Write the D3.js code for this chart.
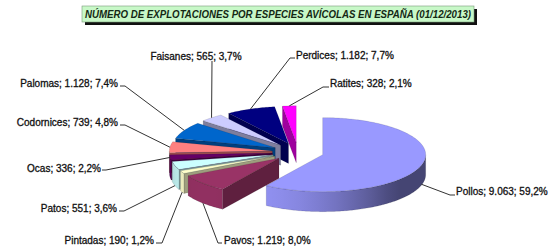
<!DOCTYPE html>
<html><head><meta charset="utf-8">
<script src="https://cdn.jsdelivr.net/npm/d3@7"></script>
<style>html,body{margin:0;padding:0;background:#fff;} svg{display:block;}</style>
</head><body><svg id="c" width="560" height="248"></svg>
<script>
// ---- data ----
const categories = ["Pollos","Pavos","Pintadas","Patos","Ocas","Codornices","Palomas","Faisanes","Perdices","Ratites"];
const values = [9063,1219,190,551,336,739,1128,565,1182,328];
const palette = ["#9999FF","#993366","#FFFFCC","#CCFFFF","#660066","#FF8080","#0066CC","#CCCCFF","#000080","#FF00FF"];
const title = "NÚMERO DE EXPLOTACIONES POR ESPECIES AVÍCOLAS EN ESPAÑA (01/12/2013)";

// ---- layout ----
const geo = {cx:298, cy:152, rx:103, ry:37, depth:20, explode:0.25};
const labelLayout = {
  Pollos:{x:456,y:191,anchor:"start",elbow:[450,195],end:[455,195],dz:19},
  Pavos:{x:224,y:240,anchor:"start",elbow:[218,243],end:[222,243],dz:20},
  Pintadas:{x:154,y:240,anchor:"end",elbow:[162,243],end:[156,243],dz:20},
  Patos:{x:117,y:208,anchor:"end",elbow:[124,211],end:[119,211],dz:20},
  Ocas:{x:101,y:168,anchor:"end",elbow:[106,170],end:[102,170],dz:0},
  Codornices:{x:118,y:122,anchor:"end",elbow:[125,125],end:[120,125],dz:0},
  Palomas:{x:118,y:83,anchor:"end",elbow:[125,86],end:[120,86],dz:0},
  Faisanes:{x:196,y:56,anchor:"middle",elbow:[212,61],end:[212,61],dz:0},
  Perdices:{x:296,y:55,anchor:"start",elbow:[290,58],end:[295,58],dz:0},
  Ratites:{x:330,y:83,anchor:"start",elbow:[323,87],end:[329,87],dz:0}
};

const svg = d3.select("#c");
const defs = svg.append("defs");
const FONT = "'Liberation Sans', Arial, sans-serif";

// ---- title ----
const tb = {x:82,y:6,w:392,h:16};
svg.append("rect").attr("x",tb.x+3).attr("y",tb.y+3).attr("width",tb.w).attr("height",tb.h).attr("fill","#111");
svg.append("rect").attr("x",tb.x).attr("y",tb.y).attr("width",tb.w).attr("height",tb.h)
  .attr("fill","#c8f8c8").attr("stroke","#7a9a7a").attr("stroke-width",0.6);
svg.append("text").attr("x",tb.x+tb.w/2).attr("y",tb.y+11.6).attr("text-anchor","middle")
  .attr("font-family",FONT).attr("font-size",10).attr("font-weight","bold").attr("font-style","italic")
  .attr("fill","#142814").attr("textLength",386).attr("lengthAdjust","spacingAndGlyphs").text(title);

// ---- pie ----
const data = categories.map((c,i)=>({name:c,value:values[i],color:palette[i]}));
const total = d3.sum(values);
const pie = d3.pie().sort(null).value(d=>d.value).startAngle(0).endAngle(2*Math.PI);
const arcs = pie(data);

const loc = d3.formatLocale({decimal:",", thousands:".", grouping:[3], currency:["","€"]});
const fmtV = loc.format(",d"), fmtP = loc.format(".1f");

function pt(a, r, o, dz){
  return [geo.cx + o[0] + r*geo.rx*Math.sin(a), geo.cy + o[1] - r*geo.ry*Math.cos(a) + (dz||0)];
}
function shade(c,k){const q=d3.rgb(c); return d3.rgb(Math.min(255,q.r*k),Math.min(255,q.g*k),Math.min(255,q.b*k)).formatHex();}
function wallK(a){return 0.45 + 0.5*Math.max(0, Math.cos(a - 225*Math.PI/180));}
function rimPts(a0,a1,o,dz){
  const n = Math.max(2, Math.ceil(Math.abs(a1-a0)/(Math.PI/180)));
  return d3.range(n+1).map(i=>pt(a0+(a1-a0)*i/n,1,o,dz));
}
const line = d3.line();

arcs.forEach(d=>{
  d.mid = (d.startAngle+d.endAngle)/2;
  d.off = [geo.explode*geo.rx*Math.sin(d.mid), -geo.explode*geo.ry*Math.cos(d.mid)];
  d.key = pt(d.mid,0.5,d.off,0)[1];
});
const order = arcs.slice().sort((a,b)=>a.key-b.key);

const gPie = svg.append("g");
const edge = "rgba(0,0,0,0.28)";
order.forEach((d,idx)=>{
  const g = gPie.append("g");
  const a0=d.startAngle, a1=d.endAngle, o=d.off, h=geo.depth;
  const apex=pt(0,0,o,0), apexB=pt(0,0,o,h);
  // radial faces
  [[a0, a0-Math.PI/2],[a1, a1+Math.PI/2]].forEach(([a,n])=>{
    if (Math.cos(n) < -1e-6){
      const r=pt(a,1,o,0), rb=pt(a,1,o,h);
      g.append("path").attr("d", line([apex,r,rb,apexB])+"Z")
        .attr("fill", shade(d.data.color,0.62)).attr("stroke",edge).attr("stroke-width",0.4);
    }
  });
  // outer wall
  const b0=Math.max(a0,Math.PI/2), b1=Math.min(a1,3*Math.PI/2);
  if (b1>b0){
    const top=rimPts(b0,b1,o,0), bot=rimPts(b1,b0,o,h);
    const gid="w"+idx;
    const xL=pt(b1,1,o,0)[0], xR=pt(b0,1,o,0)[0];
    const grad=defs.append("linearGradient").attr("id",gid).attr("gradientUnits","userSpaceOnUse")
      .attr("x1",xL).attr("y1",0).attr("x2",xR===xL?xL+1:xR).attr("y2",0);
    d3.range(13).forEach(i=>{
      const a=b1+(b0-b1)*i/12; const x=pt(a,1,o,0)[0];
      grad.append("stop").attr("offset", xR===xL?i/12:(x-xL)/(xR-xL)).attr("stop-color", shade(d.data.color, wallK(a)));
    });
    g.append("path").attr("d", line(top.concat(bot))+"Z").attr("fill","url(#"+gid+")")
      .attr("stroke",edge).attr("stroke-width",0.4);
  }
  // top face
  g.append("path").attr("d", line([apex].concat(rimPts(a0,a1,o,0)))+"Z")
    .attr("fill", d.data.color).attr("stroke",edge).attr("stroke-width",0.4);
});

// ---- labels ----
const gLab = svg.append("g");
arcs.forEach(d=>{
  const L = labelLayout[d.data.name];
  const anchorPt = pt(d.mid,1,d.off,L.dz);
  gLab.append("path").attr("d", line([anchorPt, L.elbow, L.end])).attr("fill","none")
    .attr("stroke","#333").attr("stroke-width",1);
  gLab.append("text").attr("x",L.x).attr("y",L.y+3.6).attr("text-anchor",L.anchor)
    .attr("font-family",FONT).attr("font-size",10).attr("fill","#111")
    .attr("stroke","#111").attr("stroke-width",0.3)
    .text(d.data.name+"; "+fmtV(d.data.value)+"; "+fmtP(d.data.value/total*100)+"%");
});
</script></body></html>
